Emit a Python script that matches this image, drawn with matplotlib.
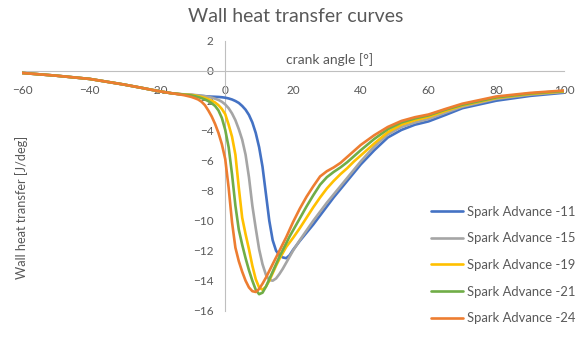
import matplotlib
matplotlib.use("Agg")
import matplotlib.pyplot as plt

plt.rcParams['font.family'] = ['Lato', 'DejaVu Sans']

# crank angle grid shared by all runs [deg]
crank = [-60, -50, -40, -30, -25, -20, -16, -14, -12,
         -10, -9, -8, -7, -6, -5, -4, -3, -2, -1,
         0, 1, 2, 3, 4, 5, 6, 7, 8, 9, 10,
         11, 12, 13, 14, 15, 16, 17, 18, 19, 20,
         22, 24, 26, 28, 30, 32, 34, 36, 38, 40,
         44, 48, 52, 56, 60, 65, 70, 80, 90, 100]

# wall heat transfer [J/deg] for each spark advance
sa11 = [-0.15, -0.33, -0.55, -0.92, -1.13, -1.35, -1.5, -1.55, -1.6,
        -1.62, -1.64, -1.66, -1.68, -1.7, -1.72, -1.73, -1.74, -1.75, -1.77,
        -1.8, -1.85, -1.92, -2.02, -2.15, -2.35, -2.6, -2.95, -3.45, -4.15, -5.1,
        -6.4, -8.2, -10.0, -11.3, -12.0, -12.3, -12.45, -12.5, -12.3, -11.95,
        -11.35, -10.8, -10.25, -9.65, -9.05, -8.45, -7.9, -7.35, -6.8, -6.25,
        -5.3, -4.45, -3.95, -3.6, -3.38, -2.95, -2.5, -2.0, -1.68, -1.47]
sa15 = [-0.15, -0.33, -0.55, -0.92, -1.13, -1.35, -1.5, -1.55, -1.58,
        -1.6, -1.62, -1.64, -1.67, -1.7, -1.75, -1.8, -1.87, -1.95, -2.07,
        -2.25, -2.5, -2.85, -3.3, -3.9, -4.6, -5.6, -7.1, -9.0, -10.5, -11.9,
        -12.9, -13.6, -13.95, -14.0, -13.85, -13.55, -13.2, -12.8, -12.4, -12.0,
        -11.3, -10.65, -10.0, -9.4, -8.8, -8.25, -7.7, -7.15, -6.6, -6.05,
        -5.05, -4.25, -3.75, -3.45, -3.22, -2.8, -2.4, -1.88, -1.6, -1.42]
sa19 = [-0.15, -0.33, -0.55, -0.92, -1.13, -1.35, -1.5, -1.55, -1.59,
        -1.62, -1.65, -1.7, -1.75, -1.82, -1.9, -2.0, -2.12, -2.3, -2.55,
        -2.9, -3.6, -4.4, -5.6, -7.8, -9.8, -10.9, -11.9, -13.0, -13.9, -14.45,
        -14.6, -14.4, -14.0, -13.5, -13.0, -12.55, -12.15, -11.75, -11.45, -11.15,
        -10.5, -9.8, -9.1, -8.45, -7.85, -7.35, -6.9, -6.5, -6.05, -5.65,
        -4.85, -4.1, -3.6, -3.3, -3.08, -2.68, -2.32, -1.82, -1.55, -1.38]
sa21 = [-0.15, -0.33, -0.55, -0.92, -1.13, -1.35, -1.5, -1.55, -1.6,
        -1.65, -1.7, -1.76, -1.83, -1.92, -2.03, -2.17, -2.35, -2.65, -3.15,
        -3.95, -5.1, -6.9, -9.0, -10.6, -11.6, -12.5, -13.3, -14.0, -14.6, -14.9,
        -14.8, -14.4, -13.9, -13.4, -12.9, -12.4, -11.95, -11.5, -11.05, -10.65,
        -9.85, -9.05, -8.3, -7.6, -7.1, -6.75, -6.45, -6.1, -5.7, -5.3,
        -4.55, -3.9, -3.45, -3.18, -2.98, -2.6, -2.27, -1.78, -1.52, -1.35]
sa24 = [-0.15, -0.33, -0.55, -0.92, -1.13, -1.35, -1.5, -1.56, -1.64,
        -1.75, -1.83, -1.92, -2.07, -2.3, -2.65, -3.05, -3.55, -4.15, -4.9,
        -5.9, -7.8, -10.1, -11.8, -12.7, -13.4, -14.0, -14.45, -14.7, -14.75, -14.55,
        -14.2, -13.8, -13.35, -12.9, -12.45, -12.0, -11.55, -11.1, -10.6, -10.1,
        -9.2, -8.4, -7.7, -7.05, -6.7, -6.45, -6.15, -5.75, -5.35, -4.95,
        -4.3, -3.75, -3.35, -3.1, -2.92, -2.55, -2.2, -1.72, -1.48, -1.32]

series = [sa11, sa15, sa19, sa21, sa24]
labels = ["Spark Advance -11", "Spark Advance -15", "Spark Advance -19",
          "Spark Advance -21", "Spark Advance -24"]
colors = ["#4472C4", "#A5A5A5", "#FFC000", "#70AD47", "#ED7D31"]

txt = "#595959"

fig = plt.figure(figsize=(5.85, 3.44), dpi=100)
ax = fig.add_axes([0.0376, 0.0968, 0.9265, 0.7849])

lines = []
for vals, lab, col in zip(series, labels, colors):
    ln, = ax.plot(crank, vals, color=col, linewidth=1.9, label=lab,
                  solid_capstyle='round', solid_joinstyle='round', zorder=3)
    lines.append(ln)

ax.set_xlim(-60, 100)
ax.set_ylim(-16, 2)
ax.set_xticks(range(-60, 101, 20))
ax.set_yticks(range(-16, 3, 2))
ax.set_axisbelow(True)

# axes cross at the origin
ax.spines['left'].set_position(('data', 0))
ax.spines['bottom'].set_position(('data', 0))
ax.spines['top'].set_visible(False)
ax.spines['right'].set_visible(False)
for s in ('left', 'bottom'):
    ax.spines[s].set_color('#BFBFBF')
    ax.spines[s].set_linewidth(0.8)
    ax.spines[s].set_zorder(1)

ax.tick_params(axis='both', length=0, labelsize=8.5, labelcolor=txt)
ax.tick_params(axis='x', pad=10.5)
ax.tick_params(axis='y', pad=8.5)
ax.patch.set_visible(False)

fig.text(0.506, 0.953, "Wall heat transfer curves", ha='center', va='center',
         fontsize=14, color=txt)
fig.text(0.564, 0.826, "crank angle [°]", ha='center', va='center',
         fontsize=10, color=txt)
fig.text(0.036, 0.398, "Wall heat transfer [J/deg]", ha='center', va='center',
         rotation=90, fontsize=9.2, color=txt)

leg = fig.legend(lines, labels, loc='upper left', bbox_to_anchor=(0.737, 0.402),
                 frameon=False, fontsize=9.4, handlelength=2.42, handletextpad=0.3,
                 labelspacing=1.12, borderpad=0, borderaxespad=0)
for t in leg.get_texts():
    t.set_color(txt)

fig.savefig("out.png", dpi=100)
